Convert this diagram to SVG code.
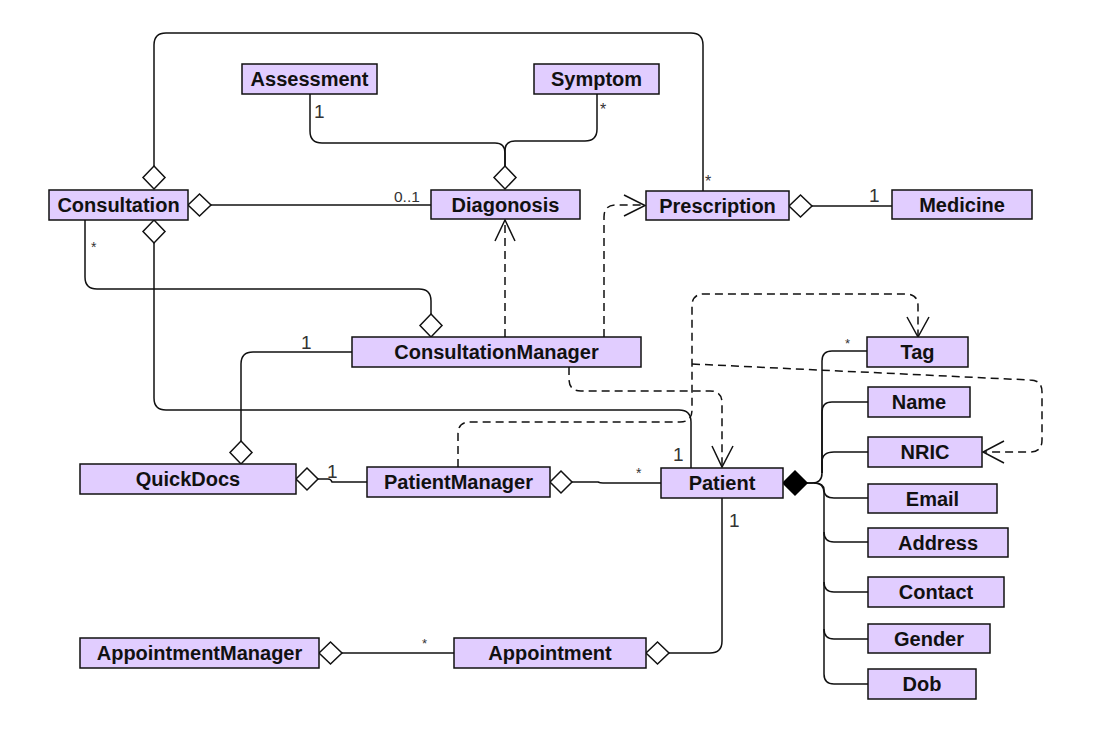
<svg xmlns="http://www.w3.org/2000/svg" width="1114" height="734" viewBox="0 0 1114 734">
<style>
.box{fill:#E1CDFF;stroke:#111;stroke-width:1.5}
.lbl{font-family:"Liberation Sans",Arial,sans-serif;font-weight:bold;font-size:20px;fill:#111;text-anchor:middle}
.ln{fill:none;stroke:#111;stroke-width:1.5}
.dl{fill:none;stroke:#111;stroke-width:1.5;stroke-dasharray:8 5}
.od{fill:#fff;stroke:#111;stroke-width:1.5}
.fd{fill:#000;stroke:#000;stroke-width:1.5}
.m{font-family:"Liberation Sans",Arial,sans-serif;fill:#333}
</style>
<rect width="1114" height="734" fill="#fff"/>
<g id="connectors">
  <!-- Consultation top to Prescription -->
  <path class="ln" d="M154,166 V45 Q154,33 166,33 H691 Q703,33 703,45 V191"/>
  <path class="od" d="M154,166 L165,177.5 L154,189 L143,177.5 Z"/>
  <!-- Consultation to Diagonosis -->
  <path class="ln" d="M211,205 H431"/>
  <path class="od" d="M188,205 L199.5,194 L211,205 L199.5,216 Z"/>
  <!-- Assessment / Symptom to Diagonosis -->
  <path class="ln" d="M310,94 V131 Q310,143 322,143 H495 Q505,143 505,153 V166"/>
  <path class="ln" d="M597,94 V129 Q597,141 585,141 H515 Q505,141 505,151 V166"/>
  <path class="od" d="M505,166 L516,177.5 L505,189 L494,177.5 Z"/>
  <!-- Consultation bottom to Patient -->
  <path class="ln" d="M154,243 V398 Q154,410 166,410 H679 Q691,410 691,422 V468"/>
  <path class="od" d="M154,220 L165,231.5 L154,243 L143,231.5 Z"/>
  <!-- Consultation to ConsultationManager -->
  <path class="ln" d="M85,220 V277 Q85,289 97,289 H419 Q431,289 431,301 V314"/>
  <path class="od" d="M431,314 L442,325.5 L431,337 L420,325.5 Z"/>
  <!-- ConsultationManager to Diagonosis (dependency) -->
  <path class="dl" d="M505,337 V221"/>
  <path class="ln" d="M495,241 L505,220 L515,241"/>
  <!-- ConsultationManager to Prescription -->
  <path class="dl" d="M604,337 V217 Q604,205 616,205 H644"/>
  <path class="ln" d="M624,195 L645,205.5 L624,216"/>
  <!-- ConsultationManager to Patient -->
  <path class="dl" d="M569,367 V379 Q569,391 581,391 H710 Q722,391 722,403 V466"/>
  <path class="ln" d="M712,446 L722,467 L733,446"/>
  <!-- ConsultationManager to QuickDocs -->
  <path class="ln" d="M352,352 H253 Q241,352 241,364 V441"/>
  <path class="od" d="M241,441 L252,452.5 L241,464 L230,452.5 Z"/>
  <!-- PatientManager to QuickDocs -->
  <path class="ln" d="M318,479 H328 Q331,479 332,482 H367"/>
  <path class="od" d="M296,479 L307,468 L318,479 L307,490 Z"/>
  <!-- Patient to PatientManager -->
  <path class="ln" d="M572,482 H598 Q600,483 603,483 H661"/>
  <path class="od" d="M550,482 L561,471 L572,482 L561,493 Z"/>
  <!-- PatientManager to Tag (dependency) -->
  <path class="dl" d="M458,467 V434 Q458,422 470,422 H680 Q692,422 692,410 V306 Q692,294 704,294 H906 Q918,294 918,306 V336"/>
  <path class="ln" d="M907,317 L918,337 L929,317"/>
  <!-- PatientManager to NRIC (dependency) -->
  <path class="dl" d="M692,364 L1030,380 Q1042,380 1042,392 V440 Q1042,452 1030,452 H984"/>
  <path class="ln" d="M1004,441 L983,452 L1004,463"/>
  <!-- Prescription to Medicine -->
  <path class="ln" d="M812,206 H892"/>
  <path class="od" d="M789,206 L800.5,195 L812,206 L800.5,217 Z"/>
  <!-- Appointment to Patient -->
  <path class="ln" d="M669,653 H710 Q722,653 722,641 V498"/>
  <path class="od" d="M646,653 L657.5,642 L669,653 L657.5,664 Z"/>
  <!-- AppointmentManager to Appointment -->
  <path class="ln" d="M342,653 H454"/>
  <path class="od" d="M319,653 L330.5,642 L342,653 L330.5,664 Z"/>
  <!-- Patient composition -->
  <path class="ln" d="M807,483 H812 Q822,483 822,473 V361 Q822,351 832,351 H867"/>
  <path class="ln" d="M822,473 V412 Q822,402 832,402 H868"/>
  <path class="ln" d="M822,473 V462 Q822,452 834,452 H868"/>
  <path class="ln" d="M807,483 H814 Q824,483 824,490 Q824,498 834,498 H868"/>
  <path class="ln" d="M814,483 Q824,483 824,493 V532 Q824,542 834,542 H868"/>
  <path class="ln" d="M824,532 V582 Q824,592 834,592 H868"/>
  <path class="ln" d="M824,582 V629 Q824,639 834,639 H868"/>
  <path class="ln" d="M824,629 V674 Q824,684 834,684 H868"/>
  <path class="fd" d="M783,483 L795,471 L807,483 L795,495 Z"/>
  <!-- multiplicities -->
  <text class="m" x="314" y="118" font-size="19">1</text>
  <text class="m" x="600" y="115" font-size="16">*</text>
  <text class="m" x="705" y="187" font-size="16">*</text>
  <text class="m" x="394" y="202" font-size="15.5">0..1</text>
  <text class="m" x="869" y="202" font-size="19">1</text>
  <text class="m" x="91" y="252" font-size="14">*</text>
  <text class="m" x="301" y="349" font-size="19">1</text>
  <text class="m" x="327" y="478" font-size="19">1</text>
  <text class="m" x="636" y="478" font-size="14">*</text>
  <text class="m" x="673" y="461" font-size="19">1</text>
  <text class="m" x="729" y="527" font-size="19">1</text>
  <text class="m" x="422" y="648" font-size="13">*</text>
  <text class="m" x="845" y="348" font-size="13">*</text>
</g>
<g id="Consultation"><rect class="box" x="49" y="190" width="139" height="30"/><text class="lbl" x="118.5" y="212">Consultation</text></g>
<g id="Assessment"><rect class="box" x="242" y="64" width="135" height="30"/><text class="lbl" x="309.5" y="86">Assessment</text></g>
<g id="Symptom"><rect class="box" x="534" y="64" width="125" height="30"/><text class="lbl" x="596.5" y="86">Symptom</text></g>
<g id="Diagonosis"><rect class="box" x="431" y="190" width="149" height="29"/><text class="lbl" x="505.5" y="212">Diagonosis</text></g>
<g id="Prescription"><rect class="box" x="646" y="191" width="143" height="29"/><text class="lbl" x="717.5" y="213">Prescription</text></g>
<g id="Medicine"><rect class="box" x="892" y="190" width="140" height="29"/><text class="lbl" x="962" y="212">Medicine</text></g>
<g id="ConsultationManager"><rect class="box" x="352" y="337" width="289" height="30"/><text class="lbl" x="496.5" y="359">ConsultationManager</text></g>
<g id="QuickDocs"><rect class="box" x="80" y="464" width="216" height="30"/><text class="lbl" x="188" y="486">QuickDocs</text></g>
<g id="PatientManager"><rect class="box" x="367" y="467" width="183" height="30"/><text class="lbl" x="458.5" y="489">PatientManager</text></g>
<g id="Patient"><rect class="box" x="661" y="468" width="122" height="30"/><text class="lbl" x="722" y="490">Patient</text></g>
<g id="AppointmentManager"><rect class="box" x="80" y="638" width="239" height="30"/><text class="lbl" x="199.5" y="660">AppointmentManager</text></g>
<g id="Appointment"><rect class="box" x="454" y="638" width="192" height="30"/><text class="lbl" x="550" y="660">Appointment</text></g>
<g id="Tag"><rect class="box" x="867" y="337" width="101" height="30"/><text class="lbl" x="917.5" y="359">Tag</text></g>
<g id="Name"><rect class="box" x="868" y="387" width="102" height="30"/><text class="lbl" x="919" y="409">Name</text></g>
<g id="NRIC"><rect class="box" x="868" y="437" width="114" height="30"/><text class="lbl" x="925" y="459">NRIC</text></g>
<g id="Email"><rect class="box" x="868" y="484" width="129" height="29"/><text class="lbl" x="932.5" y="505.5">Email</text></g>
<g id="Address"><rect class="box" x="868" y="528" width="140" height="29"/><text class="lbl" x="938" y="549.5">Address</text></g>
<g id="Contact"><rect class="box" x="868" y="577" width="136" height="30"/><text class="lbl" x="936" y="599">Contact</text></g>
<g id="Gender"><rect class="box" x="868" y="624" width="122" height="29"/><text class="lbl" x="929" y="645.5">Gender</text></g>
<g id="Dob"><rect class="box" x="868" y="669" width="108" height="30"/><text class="lbl" x="922" y="691">Dob</text></g>
</svg>
